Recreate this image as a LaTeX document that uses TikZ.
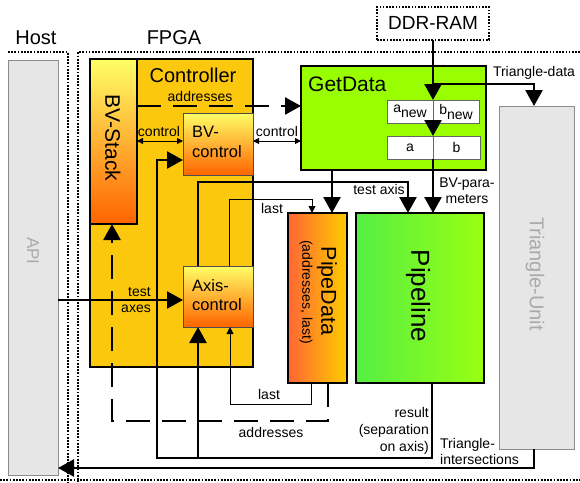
\documentclass[tikz,border=0pt]{standalone}
\usepackage{fontspec}
\setmainfont{Liberation Sans}
\usetikzlibrary{arrows.meta}
\definecolor{ctrlY}{HTML}{FCC80E}
\definecolor{stkTop}{HTML}{FFFF66}
\definecolor{stkBot}{HTML}{FF6400}
\definecolor{gdGreen}{HTML}{99FF00}
\definecolor{plLeft}{HTML}{55EE44}
\definecolor{plRight}{HTML}{99FF11}
\definecolor{pdLeft}{HTML}{FF6633}
\definecolor{pdRight}{HTML}{FFCC00}
\definecolor{unitGray}{HTML}{E6E6E6}
\definecolor{unitLine}{HTML}{8C8C8C}
\definecolor{unitText}{HTML}{AAAAAA}
\begin{document}
\begin{tikzpicture}[x=1pt,y=-1pt,
  blk/.style={draw=black,line width=2.2pt,inner sep=0pt,outer sep=0pt,anchor=north west},
  sub/.style={draw=black!70,line width=0.8pt,inner sep=0pt,outer sep=0pt,anchor=north west,top color=stkTop,bottom color=stkBot},
  unit/.style={draw=unitLine,fill=unitGray,line width=1pt,inner sep=0pt,outer sep=0pt,anchor=north west},
  reg/.style={draw=black!60,fill=white,line width=0.8pt,inner sep=0pt,outer sep=0pt,anchor=north west,minimum width=46pt,minimum height=23pt,font=\fontsize{14}{16}\selectfont},
  dotbox/.style={draw=black,line width=1.7pt,dash pattern=on 1.7pt off 1.5pt},
  lbl/.style={inner sep=0pt,font=\fontsize{14}{16}\selectfont},
  big/.style={inner sep=0pt,font=\fontsize{20}{22}\selectfont},
  thk/.style={line width=2.6pt},
  thn/.style={line width=0.9pt},
  bigtip/.style={-{Triangle[length=16pt,width=17pt]}},
  smalltip/.style={-{Triangle[length=7pt,width=7pt]}},
  dualtip/.style={{Triangle[length=6pt,width=6pt]}-{Triangle[length=6pt,width=6pt]}},
  dashline/.style={thk,dash pattern=on 24pt off 12pt},
]
\useasboundingbox (0,0) rectangle (580,482);

% frames
\draw[dotbox] (8,52) -- (68,52) -- (68,482);
\draw[dotbox] (580,52) -- (78,52) -- (78,482);
\draw[dotbox] (0,480) -- (580,480);
\node[big] (host) at (36,38) {Host};
\node[big] (fpga) at (174,38) {FPGA};

% boxes
\node[unit,minimum width=50pt,minimum height=415pt] (api) at (8,60) {};
\node[inner sep=0pt,rotate=-90,text=unitText,font=\fontsize{17}{19}\selectfont] (apit) at (33,251) {API};

\node[unit,minimum width=75pt,minimum height=343pt] (tri) at (499,106) {};
\node[inner sep=0pt,rotate=-90,text=unitText,font=\fontsize{20}{22}\selectfont] (trit) at (535,274) {Triangle-Unit};

\node[blk,fill=ctrlY,minimum width=163pt,minimum height=308pt] (ctrl) at (90,59) {};
\node[big] (ctrlt) at (193,75) {Controller};
\node[blk,top color=stkTop,bottom color=stkBot,minimum width=47pt,minimum height=165pt] (bvstack) at (90,59) {};
\node[inner sep=0pt,rotate=-90,font=\fontsize{21}{23}\selectfont] (bvstackt) at (113,138) {BV-Stack};
\node[sub,minimum width=70pt,minimum height=62pt] (bvctrl) at (183,113) {};
\node[inner sep=0pt,anchor=west,align=left,font=\fontsize{16.5}{20}\selectfont] (bvctrlt) at (192,142) {BV-\\control};
\node[sub,minimum width=70pt,minimum height=61pt] (axisctrl) at (183,266) {};
\node[inner sep=0pt,anchor=west,align=left,font=\fontsize{16.5}{19}\selectfont] (axisctrlt) at (192,295) {Axis-\\control};

\node[blk,fill=gdGreen,minimum width=185pt,minimum height=104pt] (getdata) at (301,66) {};
\node[inner sep=0pt,anchor=west,font=\fontsize{21}{23}\selectfont] (getdatat) at (308,84) {GetData};
\node[reg] (anew) at (387,100) {a\raisebox{-5pt}{new}};
\node[reg] (bnew) at (433,100) {b\raisebox{-5pt}{new}};
\node[reg] (areg) at (387,136) {a};
\node[reg,minimum width=47pt] (breg) at (433,136) {b};

\node[blk,dotbox,fill=white,minimum width=112pt,minimum height=33pt] (ddr) at (377,7) {};
\node[inner sep=0pt,font=\fontsize{19}{21}\selectfont] (ddrt) at (433,23) {DDR-RAM};

\node[blk,left color=pdLeft,right color=pdRight,minimum width=59pt,minimum height=170pt] (pipedata) at (288,213) {};
\node[inner sep=0pt,rotate=-90,font=\fontsize{21.5}{23}\selectfont] (pipedatat) at (327,291) {PipeData};
\node[inner sep=0pt,rotate=-90,font=\fontsize{14}{16}\selectfont] (pipedatas) at (306,292) {(addresses, last)};

\node[blk,left color=plLeft,right color=plRight,minimum width=128pt,minimum height=170pt] (pipeline) at (356,213) {};
\node[inner sep=0pt,rotate=-90,font=\fontsize{26}{28}\selectfont] (pipelinet) at (418,296) {Pipeline};

% connectors
% DDR -> registers -> pipeline
\draw[thk,bigtip] (ddr.south) -- (anew.north east);
\draw[thk,bigtip] (anew.south east) -- (areg.north east);
\draw[thk,bigtip] (areg.south east) -- (pipeline.north -| areg.south east);
\coordinate (tdb) at (433,84);
\draw[thk,bigtip] (tdb) -| (tri.north -| 534,0);
\node[lbl] (tdl) at (534,73) {Triangle-data};
\node[lbl,align=center] (bvpl) at (467,191) {BV-para-\\meters};

% addresses BV-Stack -> GetData
\draw[dashline,bigtip] (bvstack.east |- 0,106) -- (getdata.west |- 0,106);
\node[lbl] (addrl) at (200,96) {addresses};

% control arrows
\draw[thn,dualtip] (bvstack.east |- 0,141) -- (bvctrl.west |- 0,141);
\node[lbl] (ctl1) at (159,131) {control};
\draw[thn,dualtip] (bvctrl.east |- 0,141) -- (getdata.west |- 0,141);
\node[lbl] (ctl2) at (277,131) {control};

% test axes from API
\draw[thk,bigtip] (api.east |- 0,300) -- (axisctrl.west |- 0,300);
\node[lbl,anchor=east,align=right] (tal) at (151,300) {test\\axes};

% GetData -> PipeData
\draw[thk,bigtip] (getdata.south -| 332,0) -- (pipedata.north -| 332,0);

% test axis: Axis-control -> Pipeline
\draw[thk,bigtip] (axisctrl.north -| 198,0) |- (408,182) -- (pipeline.north -| 408,0);
\node[lbl] (tax) at (379,189) {test axis};

% last: Axis-control -> PipeData
\draw[thn,smalltip] (axisctrl.north -| 229,0) |- (312,199) -- (pipedata.north -| 312,0);
\node[lbl] (last1) at (272,208) {last};

% last: PipeData -> Axis-control
\draw[thn,smalltip] (pipedata.south -| 311,0) |- (230,404) -- (axisctrl.south -| 230,0);
\node[lbl] (last2) at (269,394) {last};

% addresses: PipeData -> BV-Stack
\draw[dashline,bigtip] (pipedata.south -| 328,0) |- (112,421) -- (bvstack.south -| 112,0);
\node[lbl] (addr2) at (271,432) {addresses};

% result loop
\coordinate (rb) at (157,458);
\draw[thk,bigtip] (pipeline.south -| 432,0) |- (rb) |- (bvctrl.west |- 0,160);
\draw[thk,bigtip] (198,458) -- (axisctrl.south -| 198,0);
\node[lbl,anchor=east,align=right,font=\fontsize{14}{17}\selectfont] (resl) at (429,431) {result\\(separation\\on axis)};

% triangle intersections
\draw[thk,bigtip] (tri.south -| 534,0) |- (api.east |- 0,468);
\node[lbl,anchor=west,align=left] (til) at (440,451) {Triangle-\\intersections};

\end{tikzpicture}
\end{document}
